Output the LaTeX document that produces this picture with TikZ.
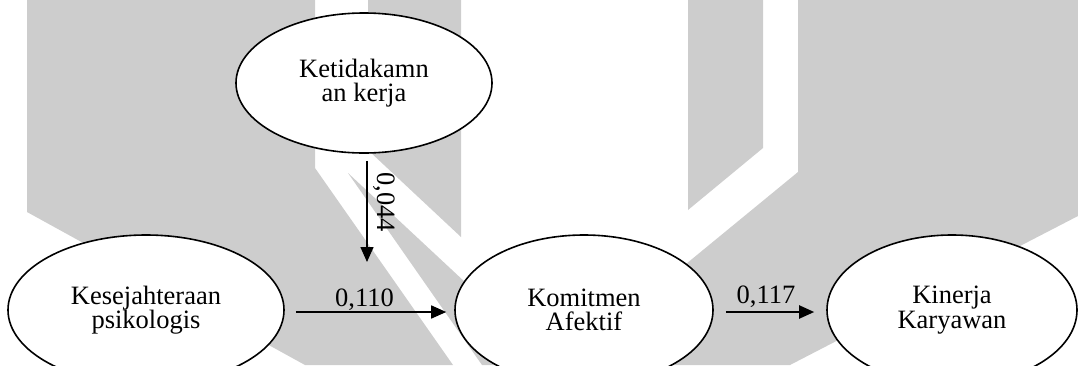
\documentclass[tikz,border=0pt]{standalone}
\usepackage{fontspec}
\setmainfont{Liberation Serif}
\usetikzlibrary{shapes.geometric,arrows.meta}
\definecolor{wm}{RGB}{205,205,205}
\tikzset{
  var/.style={ellipse,draw,line width=1.6pt,fill=white,inner sep=0pt,align=center,
    font=\fontsize{26.5}{24.5}\selectfont},
  arr/.style={line width=1.5pt,-{Triangle[length=15pt,width=13pt]}},
  lbl/.style={font=\fontsize{26.5}{24.5}\selectfont,inner sep=0pt},
  wmark/.style={fill=wm,draw=none}
}
\begin{document}
\begin{tikzpicture}[x=1pt,y=-1pt]
\useasboundingbox (0,0) rectangle (1078,365);
% watermark
\fill[wmark] (27,0) -- (315,0) -- (315,168) -- (453,365) -- (305,365) -- (27,212) -- cycle;
\fill[wmark] (368,0) -- (461,0) -- (461,237) -- (368,150) -- cycle;
\fill[wmark] (348,173) -- (554,365) -- (482,365) -- cycle;
\fill[wmark] (688,0) -- (763,0) -- (763,148) -- (688,210) -- cycle;
\fill[wmark] (798,0) -- (1078,0) -- (1078,216) -- (790,365) -- (563,365) -- (798,172) -- cycle;
% nodes
\node[var,minimum width=256pt,minimum height=140pt] (K) at (364,83) {Ketidakamn\\an kerja};
\node[var,minimum width=276pt,minimum height=150pt] (S) at (146,310) {Kesejahteraan\\psikologis};
\node[var,minimum width=258pt,minimum height=150pt] (A) at (584,310) {Komitmen\\Afektif};
\node[var,minimum width=250pt,minimum height=150pt] (P) at (952,310) {Kinerja\\Karyawan};
% connectors
\coordinate (kend) at (367,262);
\draw[arr] ([xshift=3pt,yshift=-7pt]K.south) -- (kend);
\draw[arr] ([xshift=11pt,yshift=-2pt]S.east) -- ([xshift=-8pt,yshift=-2pt]A.west);
\draw[arr,line width=2pt] ([xshift=12pt,yshift=-2pt]A.east) -- ([xshift=-12pt,yshift=-2pt]P.west);
% labels
\node[lbl,anchor=base] (l1) at (364.5,306) {0,110};
\node[lbl,anchor=base] (l2) at (766,303) {0,117};
\node[lbl,anchor=base,rotate=-90] (l3) at (377,202) {0,044};
\end{tikzpicture}
\end{document}
